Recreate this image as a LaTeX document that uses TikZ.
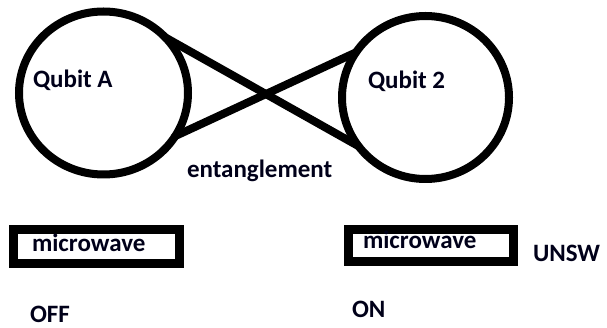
\documentclass[tikz,border=0pt]{standalone}
\usepackage{fontspec}
\setmainfont{Carlito}
\usetikzlibrary{shapes.geometric}

\tikzset{
  qubit/.style={ellipse, draw=black, line width=8pt, inner sep=0pt, outer sep=0pt},
  tie/.style={draw=black, line width=8pt, line cap=round},
  mwbox/.style={rectangle, draw=black, line width=9pt, inner sep=0pt, outer sep=0pt},
  lbl/.style={inner sep=0pt, outer sep=0pt, anchor=base west, text=black!90!blue,
    font=\fontsize{25}{29}\selectfont\bfseries},
}

\begin{document}
\begin{tikzpicture}[x=1pt, y=-1pt]
  \useasboundingbox (0,0) rectangle (607,328);

  % the two qubits
  \node[qubit, minimum width=169pt, minimum height=163pt] (qa) at (103.5,93) {};
  \node[qubit, minimum width=167pt, minimum height=163pt] (qb) at (425.5,97.5) {};
  \node[lbl] (qaname) at (33,88) {Qubit A};
  \node[lbl] (qbname) at (368,89) {Qubit 2};

  % crossed entanglement link
  \draw[tie] (qa.42) -- (qb.216);
  \draw[tie] (qa.-31) -- (qb.147);
  \node[lbl] (ent) at (187,178) {entanglement};

  % microwave switches
  \node[mwbox, minimum width=166pt, minimum height=34pt] (mwa) at (96,247) {};
  \node[mwbox, minimum width=165pt, minimum height=32pt] (mwb) at (430.5,246) {};
  \node[lbl] (mwatext) at (32,252) {microwave};
  \node[lbl] (mwbtext) at (363,249) {microwave};

  \node[lbl] (unsw) at (533,262) {UNSW};
  \node[lbl] (off) at (30,323) {OFF};
  \node[lbl] (on) at (352,317) {ON};
\end{tikzpicture}
\end{document}
